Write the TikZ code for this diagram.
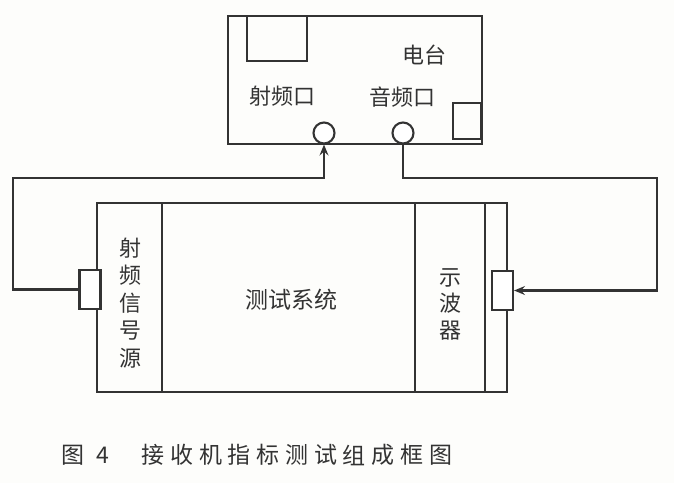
\documentclass[tikz,border=0pt]{standalone}
\usepackage{fontspec}
\usepackage{tikz}
\usetikzlibrary{arrows.meta,positioning,calc}
\newfontfamily\cjk{Noto Sans CJK SC}
\definecolor{inkc}{HTML}{333333}
\definecolor{paperc}{HTML}{FDFDFB}
\tikzset{
  blk/.style    = {draw=inkc, line width=2.1pt, inner sep=0pt},
  lbl/.style    = {font=\cjk\fontsize{22}{22}\selectfont, text=inkc, inner sep=0pt},
  vlbl/.style   = {lbl, align=center, font=\cjk\fontsize{22}{27.5}\selectfont},
  captxt/.style = {font=\cjk\fontsize{23}{23}\selectfont, text=inkc, inner sep=0pt},
  port/.style   = {circle, draw=inkc, line width=2.1pt, fill=white,
                   minimum size=21pt, inner sep=0pt},
  plug/.style   = {blk, fill=white, minimum width=21pt, minimum height=39pt},
  wire/.style   = {draw=inkc, line width=2.1pt},
  arr/.style    = {-{Stealth[length=11pt,width=9pt,inset=4pt]}},
}
\begin{document}
\begin{tikzpicture}[x=1pt,y=-1pt]
  \fill[paperc] (0,0) rectangle (674,483);
  \useasboundingbox (0,0) rectangle (674,483);

  % station
  \node[blk, minimum width=254pt, minimum height=128pt] (station) at (355,80) {};
  \node[blk, minimum width=60pt, minimum height=45pt] (panel) at (277,38.5) {};
  \node[blk, minimum width=28pt, minimum height=36pt] (knob) at (467,121) {};
  \node[lbl] (stname) at (424,55) {电台};
  \node[lbl] (rfname) at (282,96) {射频口};
  \node[lbl] (afname) at (402,97) {音频口};
  \node[port] (rfport) at (324,133) {};
  \node[port] (afport) at (403,133) {};

  % test rack
  \node[blk, minimum width=65pt, minimum height=189pt] (src) at (129.5,297.5) {};
  \node[blk, minimum width=253pt, minimum height=189pt] (sys) at (288.5,297.5) {};
  \node[blk, minimum width=70pt, minimum height=189pt] (scope) at (450,297.5) {};
  \node[blk, minimum width=22pt, minimum height=189pt] (strip) at (496,297.5) {};
  \node[vlbl] (srcname) at (130,303) {射\\频\\信\\号\\源};
  \node[lbl, font=\cjk\fontsize{23}{23}\selectfont] (sysname) at (291,300) {测试系统};
  \node[vlbl, font=\cjk\fontsize{22}{26.5}\selectfont] (scopename) at (450,304) {示\\波\\器};
  \node[plug] (lplug) at (90,289.5) {};
  \node[plug] (rplug) at (502.5,290.5) {};

  % cables
  \coordinate (lcorner) at (13,178);
  \coordinate (rcorner) at (657,178);
  \draw[wire, arr] (lplug.west) -| (lcorner) -| (rfport.south);
  \draw[wire, arr] (afport.south) |- (rcorner) |- (rplug.east);

  % caption
  \node[captxt] (fig) at (73,455) {图};
  \node[captxt] (fignum) at (103,455) {4};
  \foreach \c [count=\i from 0] in {接,收,机,指,标,测,试,组,成,框,图}
    \node[captxt] (cap\i) at (153+28.75*\i,455) {\c};
\end{tikzpicture}
\end{document}
